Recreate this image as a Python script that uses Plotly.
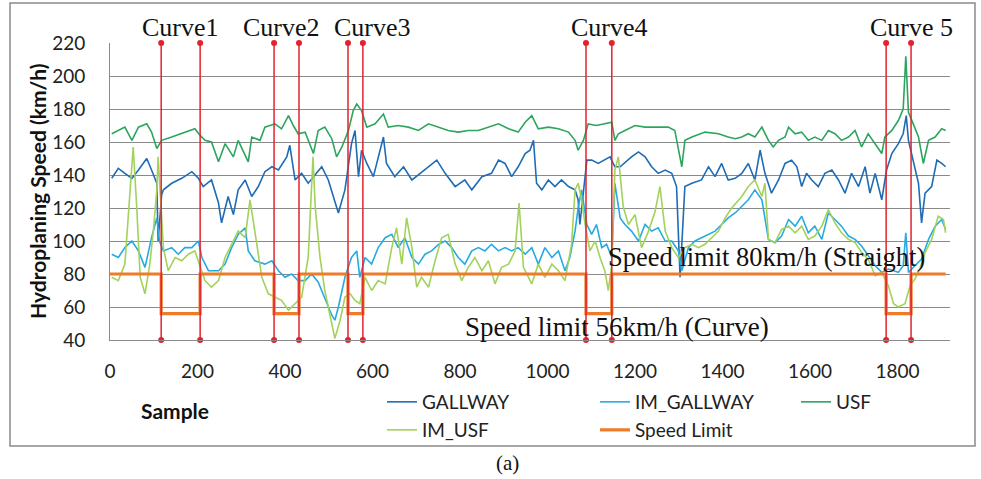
import plotly.graph_objects as go

# ---------------- data ----------------
usf_x = [4, 19, 34, 50, 65, 84, 95, 107, 118, 141, 171, 194, 206, 217, 232, 248, 263, 282, 293, 316,
         324, 343, 354, 377, 392, 408, 419, 430, 446, 465, 476, 491, 507, 518, 530, 545, 556, 564, 575,
         587, 606, 625, 636, 659, 682, 705, 728, 751, 773, 796, 819, 842, 865, 888, 911, 933, 949, 964,
         979, 1002, 1025, 1048, 1063, 1070, 1082, 1093, 1112, 1131, 1147, 1154, 1162, 1177, 1200, 1223,
         1253, 1276, 1291, 1303, 1307, 1314, 1330, 1360, 1391, 1413, 1429, 1444, 1459, 1474, 1490, 1505,
         1516, 1528, 1543, 1551, 1566, 1581, 1596, 1611, 1627, 1642, 1657, 1672, 1688, 1703, 1718, 1733,
         1749, 1764, 1771, 1787, 1802, 1813, 1819, 1825, 1836, 1848, 1859, 1871, 1886, 1901, 1910]
usf_y = [165, 167, 169, 161, 169, 171, 166, 156, 161, 163, 166, 168, 164, 161, 160, 148, 159, 151, 161, 148,
         163, 161, 169, 171, 168, 176, 170, 165, 166, 153, 167, 169, 162, 151, 157, 167, 179, 183, 179,
         169, 171, 177, 169, 170, 169, 167, 171, 169, 167, 166, 167, 167, 169, 171, 168, 166, 172, 176,
         168, 169, 168, 166, 161, 155, 161, 171, 170, 171, 172, 161, 165, 167, 170, 169,
         169, 169, 167, 151, 145, 161, 163, 166, 165, 163, 162, 163, 165, 163, 169, 161,
         157, 161, 163, 169, 165, 166, 161, 163, 161, 167, 165, 161, 163, 167, 157, 165,
         159, 153, 163, 167, 173, 180, 212, 178, 171, 163, 147, 161, 163, 168, 167]

gallway_x = [4, 19, 34, 50, 65, 84, 95, 107, 110, 118, 122, 141, 164, 187, 202, 213, 232, 248, 255, 270,
             282, 293, 309, 324, 339, 354, 370, 385, 404, 411, 423, 438, 453, 469, 484, 499, 514, 522, 537,
             552, 560, 564, 568, 575, 587, 602, 617, 625, 632, 651, 671, 690, 709, 728, 747, 766, 789, 811,
             827, 850, 872, 888, 903, 918, 933, 949, 960, 968, 975, 987, 1002, 1017, 1032, 1048, 1063, 1070,
             1074, 1090, 1101, 1116, 1131, 1143, 1154, 1166, 1192, 1208, 1223, 1238, 1253, 1269, 1284, 1295,
             1303, 1314, 1330, 1352, 1368, 1383, 1398, 1413, 1429, 1444, 1459, 1474, 1486, 1497, 1512, 1528,
             1543, 1558, 1570, 1581, 1592, 1604, 1619, 1634, 1650, 1665, 1680, 1695, 1711, 1726, 1737, 1749,
             1764, 1775, 1787, 1802, 1813, 1820, 1825, 1836, 1848, 1855, 1863, 1878, 1890, 1901, 1910]
gallway_y = [138, 144, 141, 138, 143, 150, 143, 135, 100, 128, 131, 135, 138, 142, 138, 133, 137, 123, 111, 127,
             116, 131, 137, 127, 133, 142, 145, 143, 151, 158, 137, 141, 135, 140, 145, 137, 123, 117, 131,
             159, 167, 151, 139, 155, 147, 139, 155, 163, 147, 139, 145, 137, 141, 145, 149, 141, 133, 137,
             131, 139, 141, 149, 147, 139, 145, 153, 155, 161, 135, 131, 137, 133, 137, 133, 131, 125,
             110, 149, 149, 147, 149, 151, 145, 145, 151, 154, 151, 145, 141, 143, 141, 133,
             78, 133, 135, 137, 145, 139, 147, 137, 138, 141, 147, 137, 155, 141, 129, 137,
             147, 149, 145, 133, 141, 137, 133, 141, 143, 137, 129, 141, 133, 145, 129, 141,
             125, 143, 153, 159, 165, 176, 161, 149, 135, 111, 129, 133, 149, 147, 145]

im_gallway_x = [4, 19, 34, 50, 65, 80, 95, 107, 113, 122, 141, 156, 171, 187, 202, 210, 225, 248, 263, 278,
                293, 309, 316, 331, 354, 370, 385, 400, 415, 430, 446, 461, 476, 491, 507, 514, 522, 537, 552,
                564, 571, 583, 598, 613, 629, 644, 659, 674, 690, 705, 720, 735, 751, 766, 781, 796, 811, 827,
                842, 857, 872, 888, 903, 918, 933, 949, 964, 979, 994, 1010, 1025, 1040, 1051, 1063, 1070,
                1078, 1090, 1101, 1112, 1124, 1135, 1147, 1154, 1166, 1177, 1192, 1208, 1223, 1238, 1253,
                1269, 1284, 1299, 1307, 1322, 1337, 1352, 1368, 1383, 1398, 1413, 1429, 1444, 1459, 1474,
                1490, 1505, 1520, 1535, 1551, 1566, 1581, 1596, 1611, 1627, 1642, 1657, 1672, 1688, 1703,
                1718, 1733, 1749, 1764, 1779, 1802, 1813, 1819, 1825, 1840, 1855, 1871, 1886, 1901, 1910]
im_gallway_y = [92, 90, 96, 100, 94, 84, 102, 114, 100, 94, 96, 92, 96, 96, 100, 90, 82, 82, 86, 96,
                104, 108, 94, 88, 86, 88, 82, 78, 80, 76, 76, 80, 75, 65, 55, 52, 60, 78, 90,
                94, 78, 90, 86, 96, 102, 104, 96, 102, 90, 86, 92, 94, 98, 100, 96, 90, 86, 94,
                96, 94, 98, 94, 96, 94, 96, 92, 96, 86, 96, 90, 94, 82, 90, 106, 120,
                131, 110, 104, 110, 96, 98, 90, 135, 114, 110, 106, 100, 110, 106, 108,
                100, 100, 94, 82, 96, 100, 102, 104, 106, 110, 114, 117, 121, 125, 131,
                125, 101, 99, 103, 113, 109, 115, 105, 109, 101, 117, 113, 109, 103, 101,
                97, 91, 85, 81, 83, 81, 85, 105, 81, 85, 89, 101, 109, 113, 107]

im_usf_x = [4, 19, 34, 46, 53, 61, 69, 80, 91, 99, 107, 110, 118, 122, 133, 149, 164, 179, 194, 206,
            217, 232, 248, 263, 278, 293, 309, 320, 331, 347, 362, 377, 392, 408, 423, 438, 453, 464, 469,
            480, 491, 507, 514, 526, 537, 549, 560, 571, 583, 598, 613, 629, 644, 655, 667, 678, 690, 701,
            712, 728, 743, 758, 773, 789, 804, 819, 834, 850, 865, 880, 895, 911, 926, 935, 945, 964, 979,
            994, 1010, 1025, 1040, 1055, 1063, 1070, 1078, 1086, 1097, 1109, 1120, 1131, 1139, 1147, 1154,
            1162, 1173, 1185, 1200, 1215, 1231, 1246, 1257, 1269, 1284, 1299, 1314, 1330, 1345, 1360, 1375,
            1391, 1406, 1421, 1444, 1459, 1474, 1490, 1497, 1505, 1520, 1535, 1551, 1566, 1581, 1596, 1611,
            1627, 1642, 1657, 1672, 1688, 1703, 1718, 1733, 1749, 1764, 1779, 1791, 1802, 1817, 1829, 1840,
            1851, 1863, 1878, 1893, 1905, 1910]
im_usf_y = [78, 76, 86, 131, 157, 121, 78, 68, 86, 106, 131, 151, 110, 96, 82, 90, 88, 92, 94, 84,
            76, 72, 76, 90, 98, 106, 102, 125, 106, 78, 68, 66, 64, 58, 62, 66, 90, 151, 121,
            90, 70, 50, 41, 52, 66, 68, 64, 62, 78, 70, 76, 74, 96, 108, 86, 114, 96, 72,
            78, 72, 88, 102, 104, 86, 76, 84, 90, 82, 88, 74, 84, 86, 94, 123, 84, 74, 86,
            78, 86, 82, 76, 98, 131, 135, 125, 110, 94, 100, 90, 82, 70, 86, 143,
            151, 121, 110, 116, 96, 106, 118, 133, 106, 96, 90, 96, 98, 96, 98, 102,
            106, 114, 120, 127, 133, 137, 127, 135, 101, 99, 107, 109, 105, 109, 101, 103,
            109, 119, 111, 105, 101, 99, 93, 89, 79, 81, 73, 62, 60, 62, 73, 77,
            83, 93, 101, 115, 113, 105]

limit_x = [0, 117, 206, 375, 432, 544, 578, 1088, 1147, 1774, 1831, 1910]
limit_y = [80, 56, 80, 56, 80, 56, 80, 56, 80, 56, 80, 80]

curve_bounds = [117, 206, 375, 432, 544, 578, 1088, 1147, 1774, 1831]
curve_names = ["Curve1", "Curve2", "Curve3", "Curve4", "Curve 5"]
curve_label_x = [180, 281, 372, 609, 911]   # pixel centres of the labels

x_ticks = [0, 200, 400, 600, 800, 1000, 1200, 1400, 1600, 1800]

# ---------------- geometry helpers (for annotations / legends only) ----------------
W, H = 981, 479
L, R, T, B = 110, 31, 43, 139
PW, PH = W - L - R, H - T - B


def px(xp):
    return (xp - L) / PW


def py(yp):
    return (H - B - yp) / PH


FONT = "Lato"
SERIF = "Liberation Serif"

fig = go.Figure()

fig.add_trace(go.Scatter(x=gallway_x, y=gallway_y, mode="lines", name="GALLWAY",
                         line=dict(color="#1f6cb4", width=1.6), legend="legend"))
fig.add_trace(go.Scatter(x=im_gallway_x, y=im_gallway_y, mode="lines", name="IM_GALLWAY",
                         line=dict(color="#27aae1", width=1.6), legend="legend2"))
fig.add_trace(go.Scatter(x=usf_x, y=usf_y, mode="lines", name="USF",
                         line=dict(color="#2ca55e", width=1.6), legend="legend3"))
fig.add_trace(go.Scatter(x=im_usf_x, y=im_usf_y, mode="lines", name="IM_USF",
                         line=dict(color="#a2d25c", width=1.6), legend="legend4"))
fig.add_trace(go.Scatter(x=limit_x, y=limit_y, mode="lines", name="Speed Limit",
                         line=dict(color="#ee7a2a", width=3.2, shape="hv"), legend="legend5"))

# red curve boundary lines with end dots
rx, ry = [], []
for b in curve_bounds:
    rx += [b, b, None]
    ry += [220, 40, None]
fig.add_trace(go.Scatter(x=rx, y=ry, mode="lines+markers", showlegend=False,
                         line=dict(color="#e3222e", width=1.5),
                         marker=dict(color="#e3222e", size=6), cliponaxis=False))

annotations = []
for name, cx in zip(curve_names, curve_label_x):
    annotations.append(dict(x=px(cx), y=py(28), xref="paper", yref="paper", text=name,
                            showarrow=False, xanchor="center", yanchor="middle",
                            font=dict(family=SERIF, size=26, color="#111")))
annotations.append(dict(x=px(606), y=py(257), xref="paper", yref="paper",
                        text="Speed limit 80km/h (Straight)", showarrow=False,
                        xanchor="left", yanchor="middle",
                        font=dict(family=SERIF, size=26.5, color="#111")))
annotations.append(dict(x=px(463), y=py(327), xref="paper", yref="paper",
                        text="Speed limit 56km/h (Curve)", showarrow=False,
                        xanchor="left", yanchor="middle",
                        font=dict(family=SERIF, size=27, color="#111")))
annotations.append(dict(x=px(37), y=py(191), xref="paper", yref="paper",
                        text="<b>Hydroplaning Speed (km/h)</b>", textangle=-90, showarrow=False,
                        xanchor="center", yanchor="middle",
                        font=dict(family=FONT, size=21, color="#111")))
annotations.append(dict(x=px(175), y=py(410), xref="paper", yref="paper",
                        text="<b>Sample</b>", showarrow=False, xanchor="center", yanchor="middle",
                        font=dict(family=FONT, size=21, color="#111")))
annotations.append(dict(x=px(507), y=py(463), xref="paper", yref="paper",
                        text="(a)", showarrow=False, xanchor="center", yanchor="middle",
                        font=dict(family=SERIF, size=21, color="#111")))

shapes = [dict(type="rect", xref="paper", yref="paper",
               x0=px(10), x1=px(975), y0=py(446), y1=py(3),
               line=dict(color="#8a8a8a", width=1.5), layer="below")]


def legend_at(xp, yp):
    return dict(orientation="h", x=px(xp), y=py(yp), xanchor="left", yanchor="middle",
                font=dict(family=FONT, size=19, color="#222"), bgcolor="rgba(0,0,0,0)",
                borderwidth=0)


fig.update_layout(
    width=W, height=H,
    margin=dict(l=L, r=R, t=T, b=B, pad=0, autoexpand=False),
    paper_bgcolor="white", plot_bgcolor="white",
    font=dict(family=FONT, size=19, color="#222"),
    annotations=annotations, shapes=shapes,
    legend=legend_at(382, 402),
    legend2=legend_at(595, 402),
    legend3=legend_at(796, 402),
    legend4=legend_at(382, 430),
    legend5=legend_at(595, 430),
    xaxis=dict(range=[0, 1920], tickvals=x_ticks, showgrid=False, zeroline=False,
               showline=True, linecolor="#8a8a8a", linewidth=1,
               ticks="", ticklabelstandoff=14, tickfont=dict(family=FONT, size=19, color="#222")),
    yaxis=dict(range=[40, 220], dtick=20, tick0=40, showgrid=True, gridcolor="#8a8a8a", gridwidth=1,
               zeroline=False, showline=True, linecolor="#8a8a8a", linewidth=1,
               ticks="", ticklabelstandoff=20, tickfont=dict(family=FONT, size=19, color="#222")),
)

fig.write_html("out.html")
